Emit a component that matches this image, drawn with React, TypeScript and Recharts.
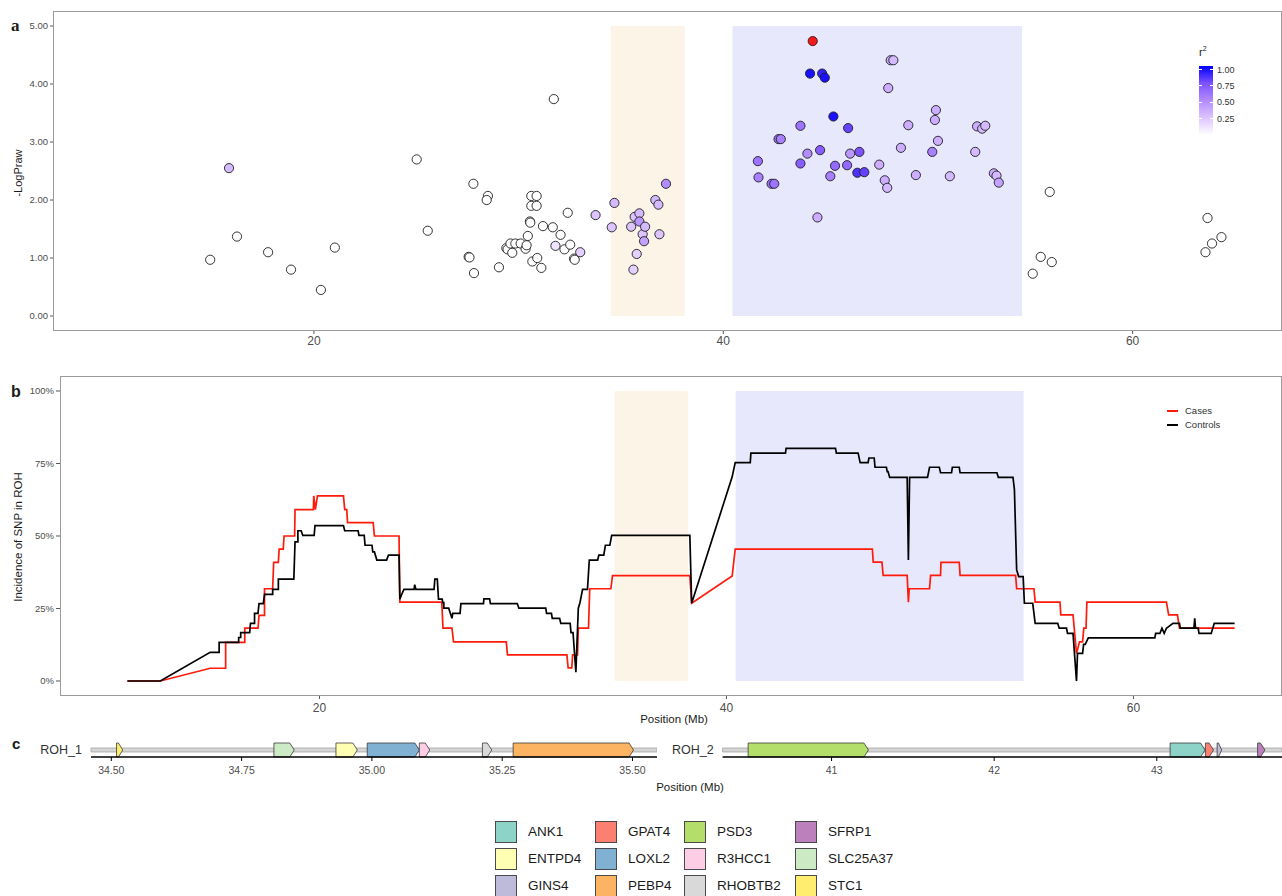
import React from 'react'
import {
  ComposedChart,
  Line,
  ReferenceArea,
  Scatter,
  ScatterChart,
  XAxis,
  YAxis,
} from 'recharts'

const FONT = '"Liberation Sans", Arial, Helvetica, sans-serif'

// ---- shared -------------------------------------------------------------
const xTicks = [20, 40, 60]
const rohStart = [34.5, 40.45]
const rohEnd = [38.12, 54.6]
const rohFill = ['#fdf4e8', '#e8e8fc']

// ---- panel a: SNPs as [position Mb, -log10 p, r2] ----------------------
const snps: [number, number, number][] = [
  [14.93, 0.97, 0], [15.85, 2.55, 0.3], [16.24, 1.37, 0], [17.76, 1.1, 0], [18.88, 0.8, 0],
  [20.34, 0.45, 0], [21.02, 1.18, 0], [25.02, 2.7, 0], [25.56, 1.47, 0], [27.56, 1.02, 0],
  [27.6, 1.01, 0], [27.79, 2.28, 0], [27.82, 0.74, 0], [28.5, 2.07, 0], [28.44, 2.0, 0],
  [29.04, 0.84, 0], [29.4, 1.17, 0], [29.46, 1.15, 0], [29.6, 1.25, 0], [29.69, 1.09, 0],
  [29.84, 1.25, 0], [30.1, 1.25, 0], [30.34, 1.16, 0], [30.39, 1.22, 0], [30.45, 1.38, 0],
  [30.55, 1.63, 0], [30.57, 1.61, 0], [30.62, 2.07, 0], [30.88, 2.07, 0], [30.62, 1.9, 0],
  [30.88, 1.9, 0], [30.67, 0.94, 0], [30.91, 1.0, 0], [31.11, 0.83, 0], [31.19, 1.55, 0],
  [31.67, 1.53, 0], [31.72, 3.74, 0], [31.8, 1.21, 0.12], [32.05, 1.4, 0], [32.24, 1.15, 0],
  [32.4, 1.78, 0], [32.52, 1.23, 0], [32.71, 0.99, 0], [32.74, 0.97, 0], [33.01, 1.1, 0.2],
  [33.76, 1.74, 0.25], [34.55, 1.53, 0.25], [34.68, 1.95, 0.3], [35.5, 1.54, 0.25],
  [35.61, 0.8, 0.2], [35.67, 1.71, 0.25], [35.77, 1.07, 0.2], [35.9, 1.77, 0.3],
  [35.9, 1.63, 0.45], [36.06, 1.41, 0.25], [36.13, 1.29, 0.4], [36.18, 1.54, 0.3],
  [36.68, 2.0, 0.3], [36.83, 1.92, 0.3], [36.88, 1.41, 0.25], [37.2, 2.28, 0.5],
  [41.69, 2.67, 0.6], [41.72, 2.39, 0.55], [42.36, 2.28, 0.6], [42.49, 2.28, 0.6],
  [42.7, 3.05, 0.6], [42.81, 3.05, 0.55], [43.77, 3.28, 0.6], [43.77, 2.63, 0.7],
  [44.11, 2.8, 0.5], [44.24, 4.18, 0.95], [44.6, 1.7, 0.35], [44.73, 2.86, 0.7],
  [44.83, 4.18, 0.9], [44.96, 4.11, 0.95], [45.23, 2.41, 0.55], [45.38, 3.44, 0.95],
  [45.46, 2.59, 0.65], [46.05, 2.6, 0.65], [46.1, 3.24, 0.8], [46.2, 2.8, 0.45],
  [46.55, 2.47, 0.85], [46.65, 2.83, 0.75], [46.89, 2.48, 0.8], [47.62, 2.61, 0.35],
  [47.89, 2.34, 0.35], [48.01, 2.21, 0.3], [48.06, 3.93, 0.35], [48.18, 4.41, 0.35],
  [48.31, 4.41, 0.3], [48.68, 2.9, 0.35], [49.04, 3.29, 0.35], [49.41, 2.43, 0.35],
  [50.21, 2.83, 0.55], [50.34, 3.38, 0.35], [50.39, 3.55, 0.35], [50.49, 3.02, 0.35],
  [51.07, 2.41, 0.3], [52.31, 2.83, 0.3], [52.4, 3.27, 0.35], [52.65, 3.23, 0.3],
  [52.8, 3.28, 0.3], [53.22, 2.46, 0.35], [53.35, 2.42, 0.3], [53.46, 2.3, 0.4],
  [55.12, 0.73, 0], [55.51, 1.02, 0], [55.95, 2.14, 0], [56.05, 0.93, 0],
  [63.56, 1.1, 0], [63.66, 1.69, 0], [63.88, 1.25, 0], [64.34, 1.36, 0],
]
const leadSnp: [number, number][] = [[44.37, 4.74]]
const logPTicks = [0, 1, 2, 3, 4, 5]
const r2Ticks = [1, 0.75, 0.5, 0.25]

// ---- panel b: incidence traces as [position Mb, % in ROH] ---------------
const casesTrace: [number, number][] = [
  [10.56, 0], [12.18, 0], [14.63, 4.4], [15.39, 4.4], [15.39, 13.3], [16.33, 13.3], [16.33, 18.2],
  [16.98, 18.2], [17.03, 22.6], [17.3, 22.6], [17.3, 31.8], [17.7, 31.8], [17.75, 40.9],
  [17.98, 40.9], [18.02, 45.5], [18.22, 45.5], [18.26, 50], [18.78, 50], [18.8, 59.1],
  [19.7, 59.1], [19.72, 63.8], [19.8, 59.1], [19.9, 63.8], [21.18, 63.8], [21.24, 59.1],
  [21.34, 59.1], [21.38, 54.6], [22.64, 54.6], [22.7, 50], [23.91, 50], [23.95, 27.2],
  [26.01, 27.2], [26.07, 18.2], [26.51, 18.2], [26.59, 13.5], [29.18, 13.5], [29.24, 9],
  [32.16, 9], [32.22, 4.5], [32.4, 4.5], [32.44, 9], [32.68, 9], [32.72, 18.2], [33.22, 18.2],
  [33.28, 31.8], [34.32, 31.8], [34.4, 36.3], [38.2, 36.3], [38.29, 26.8], [40.28, 36.2],
  [40.43, 45.5], [47.17, 45.5], [47.21, 41], [47.64, 41], [47.7, 36.4], [48.88, 36.4],
  [48.94, 27.2], [48.98, 31.8], [49.98, 31.8], [50.03, 36.4], [50.52, 36.4], [50.54, 40.9],
  [51.44, 40.9], [51.48, 36.4], [54.21, 36.4], [54.26, 31.8], [55.11, 31.8], [55.17, 27.2],
  [56.39, 27.2], [56.43, 22.8], [57.03, 22.8], [57.2, 9.5], [57.35, 13.5], [57.5, 13.5],
  [57.56, 18.2], [57.67, 18.2], [57.71, 27.2], [61.62, 27.2], [61.73, 22.8], [62.16, 22.8],
  [62.26, 18.2], [64.97, 18.2],
]
const controlsTrace: [number, number][] = [
  [10.56, 0], [12.18, 0], [14.63, 9.9], [15.07, 9.9], [15.07, 13.3], [16.03, 13.3], [16.03, 15],
  [16.13, 15], [16.13, 16.7], [16.57, 16.7], [16.61, 19.9], [16.81, 19.9], [16.81, 23.3],
  [16.98, 23.3], [17.03, 26.7], [17.24, 26.7], [17.3, 29.9], [17.7, 29.9], [17.7, 31.6],
  [17.98, 31.6], [17.98, 35.1], [18.74, 35.1], [18.8, 48], [18.94, 48], [18.94, 51.8],
  [19.1, 51.8], [19.18, 50.2], [19.74, 50.2], [19.78, 53.6], [21.18, 53.6], [21.24, 51.8],
  [21.9, 51.8], [21.94, 50.2], [22.2, 50.2], [22.24, 46.8], [22.58, 46.8], [22.62, 44.5],
  [22.7, 44.5], [22.82, 41.7], [23.3, 41.7], [23.39, 43.4], [23.91, 43.4], [23.95, 28.2],
  [24.05, 30], [24.15, 31.6], [24.65, 31.6], [24.68, 33.2], [24.74, 31.6], [25.63, 31.6],
  [25.67, 35.1], [25.79, 35.1], [25.85, 28.2], [26.03, 28.2], [26.06, 27], [26.11, 27],
  [26.11, 25.1], [26.35, 25.1], [26.51, 21.6], [26.55, 23.3], [26.91, 23.3], [26.95, 26.7],
  [28.06, 26.7], [28.08, 28.3], [28.36, 28.3], [28.4, 26.7], [29.72, 26.7], [29.8, 25.1],
  [31.12, 25.1], [31.16, 23.3], [31.4, 23.3], [31.44, 21.6], [31.8, 21.6], [31.86, 19.9],
  [32.32, 19.9], [32.36, 16.7], [32.46, 16.7], [32.6, 3], [32.72, 25.1], [32.8, 27],
  [32.93, 31.6], [33.17, 31.6], [33.26, 41.7], [33.67, 41.7], [33.73, 43.4], [33.97, 43.4],
  [34.05, 46.8], [34.27, 46.8], [34.36, 50.2], [38.2, 50.2], [38.29, 26.8], [40.28, 70.4],
  [40.43, 75.3], [41.17, 75.3], [41.2, 78.6], [42.9, 78.6], [42.93, 80.2], [45.36, 80.2],
  [45.4, 78.6], [46.47, 78.6], [46.57, 75.3], [46.96, 75.3], [47.0, 76.9], [47.26, 76.9],
  [47.3, 73.7], [47.86, 73.7], [47.9, 72.2], [47.94, 72.2], [48.02, 70.2], [48.88, 70.2],
  [48.94, 41.7], [49.0, 70.2], [49.88, 70.2], [49.98, 73.7], [50.46, 73.7], [50.52, 71.8],
  [51.06, 71.8], [51.1, 73.7], [51.44, 73.7], [51.48, 71.8], [53.29, 71.8], [53.36, 70.2],
  [54.08, 70.2], [54.15, 66], [54.26, 38.3], [54.36, 36], [54.58, 36], [54.64, 26.8],
  [55.05, 26.8], [55.17, 19.9], [56.28, 19.9], [56.35, 18.2], [56.71, 18.2], [56.76, 16.4],
  [57.03, 16.4], [57.2, 0], [57.25, 9.5], [57.5, 9.5], [57.55, 12.6], [57.63, 12.6],
  [57.78, 14.9], [61.05, 14.9], [61.09, 16.4], [61.3, 16.4], [61.4, 18.2], [61.51, 16.4],
  [61.62, 18.2], [61.94, 19.9], [62.26, 19.9], [62.3, 18.2], [62.97, 18.2], [63.01, 21.6],
  [63.05, 18.2], [63.18, 18.2], [63.22, 16.4], [63.82, 16.4], [63.97, 19.9], [64.97, 19.9],
]
const pctTicks = [0, 25, 50, 75, 100]

// ---- panel c: genes as [name, start Mb, end Mb] -------------------------
const roh1Genes: [string, number, number][] = [
  ['STC1', 34.51, 34.522], ['SLC25A37', 34.812, 34.851], ['ENTPD4', 34.931, 34.972],
  ['LOXL2', 34.991, 35.091], ['R3HCC1', 35.091, 35.111], ['RHOBTB2', 35.212, 35.23],
  ['PEBP4', 35.271, 35.502],
]
const roh2Genes: [string, number, number][] = [
  ['PSD3', 40.487, 41.227], ['ANK1', 43.082, 43.297], ['GPAT4', 43.299, 43.349],
  ['GINS4', 43.371, 43.399], ['SFRP1', 43.62, 43.665],
]
const roh1Ticks = [34.5, 34.75, 35, 35.25, 35.5]
const roh2Ticks = [41, 42, 43]
const geneNames = ['ANK1', 'ENTPD4', 'GINS4', 'GPAT4', 'LOXL2', 'PEBP4', 'PSD3', 'R3HCC1', 'RHOBTB2', 'SFRP1', 'SLC25A37', 'STC1']

const geneColour: Record<string, string> = {
  ANK1: '#8dd3c7', ENTPD4: '#ffffb3', GINS4: '#bebada', GPAT4: '#fb8072',
  LOXL2: '#80b1d3', PEBP4: '#fdb462', PSD3: '#b3de69', R3HCC1: '#fccde5',
  RHOBTB2: '#d9d9d9', SFRP1: '#bc80bd', SLC25A37: '#ccebc5', STC1: '#ffed6f',
}

// white -> blue, lab-ish stops like ggplot's gradient
const R2_STOPS = ['#ffffff', '#ddc4ff', '#b28bff', '#7e52ff', '#0000ff']

function hexToRgb(h: string) {
  const n = parseInt(h.slice(1), 16)
  return [(n >> 16) & 255, (n >> 8) & 255, n & 255]
}

function r2Colour(v: number) {
  const t = Math.max(0, Math.min(1, v)) * 4
  const i = Math.min(3, Math.floor(t))
  const f = t - i
  const a = hexToRgb(R2_STOPS[i])
  const b = hexToRgb(R2_STOPS[i + 1])
  const c = a.map((x, k) => Math.round(x + (b[k] - x) * f))
  return `rgb(${c[0]},${c[1]},${c[2]})`
}

const snpData = snps.map(([pos, logp, r2]) => ({ pos, logp, r2 }))
const leadData = leadSnp.map(([pos, logp]) => ({ pos, logp }))
const casesData = casesTrace.map(([pos, pct]) => ({ pos, pct }))
const controlsData = controlsTrace.map(([pos, pct]) => ({ pos, pct }))

const tickStyle = { fill: '#4d4d4d', fontSize: 12 }

function SnpDot(props: any) {
  const { cx, cy, payload } = props
  if (cx == null || cy == null) return null
  return <circle cx={cx} cy={cy} r={4.6} fill={r2Colour(payload.r2)} stroke="#1e1e1e" strokeWidth={0.9} />
}

function LeadDot(props: any) {
  const { cx, cy } = props
  if (cx == null || cy == null) return null
  return <circle cx={cx} cy={cy} r={4.6} fill="#ee1c1c" stroke="#3a0000" strokeWidth={0.8} />
}

function GeneArrow(props: any) {
  const { x, y, width, height, fill } = props
  if (x == null || width == null) return null
  const head = Math.min(4.5, width * 0.7)
  const pts = [
    [x, y], [x + width - head, y], [x + width, y + height / 2],
    [x + width - head, y + height], [x, y + height],
  ].map((p) => p.join(',')).join(' ')
  return <polygon points={pts} fill={fill} fillOpacity={1} stroke="#3a3a3a" strokeWidth={0.8} />
}

function Txt({ x, y, size = 11, align = 'left', rotate = false, weight = 400, family = FONT, color = '#1a1a1a', children }: any) {
  const tx = align === 'center' ? '-50%' : align === 'right' ? '-100%' : '0'
  return (
    <div
      style={{
        position: 'absolute', left: x, top: y, fontSize: size, fontWeight: weight, fontFamily: family,
        color, lineHeight: 1, whiteSpace: 'nowrap',
        transform: rotate ? 'translate(-50%, -50%) rotate(-90deg)' : `translate(${tx}, -50%)`,
      }}
    >
      {children}
    </div>
  )
}

function Frame({ left, top, width, height }: any) {
  return (
    <div style={{ position: 'absolute', left, top, width, height, border: '1px solid #9a9a9a', boxSizing: 'border-box', pointerEvents: 'none' }} />
  )
}

function GeneTrack({ genes, domain, ticks, label, width, labelWidth, digits }: any) {
  const rows = genes.map(([name, s]: [string, number, number]) => ({ name, pos: s, y: 0.5 }))
  return (
    <ComposedChart width={width} height={50} data={rows} margin={{ top: 8, right: 0, bottom: 3, left: 0 }}>
      <XAxis
        type="number" dataKey="pos" domain={domain} ticks={ticks} allowDataOverflow height={25}
        tickFormatter={(v: number) => v.toFixed(digits)}
        axisLine={{ stroke: '#000', strokeWidth: 1.4 }} tickLine={{ stroke: '#000' }}
        tickSize={4} tickMargin={6} tick={{ fill: '#4d4d4d', fontSize: 10.5 }}
      />
      <YAxis
        type="number" dataKey="y" domain={[0, 1]} ticks={[0.5]} allowDataOverflow tickFormatter={() => label} width={labelWidth}
        axisLine={false} tickLine={false} tickSize={0} tickMargin={9} tick={{ fill: '#333', fontSize: 12.5 }}
      />
      {/* the ROH track itself, drawn first so genes sit on top */}
      <ReferenceArea
        x1={domain[0]} x2={domain[1]} y1={0.36} y2={0.64} ifOverflow="visible"
        fill="#d6d6d6" fillOpacity={1} stroke="#aaaaaa" strokeWidth={0.9}
      />
      {genes.map(([name, s, e]: [string, number, number]) => (
        <ReferenceArea
          key={name} x1={s} x2={e} y1={0} y2={1} fill={geneColour[name]} fillOpacity={1} ifOverflow="visible"
          shape={(p: any) => <GeneArrow {...p} fill={geneColour[name]} />}
        />
      ))}
    </ComposedChart>
  )
}

const legendColX = [495, 595, 684, 795]
const legendRowY = [821, 848, 875]

export default function App() {
  return (
    <div style={{ position: 'absolute', left: 0, top: 0, width: 1282, height: 896, background: '#fff', fontFamily: FONT, overflow: 'hidden' }}>
      {/* panel a */}
      <div style={{ position: 'absolute', left: 0, top: 0 }}>
        <ScatterChart width={1282} height={352} margin={{ top: 11, right: 1, bottom: 2, left: 8 }}>
          <XAxis
            type="number" dataKey="pos" domain={[7.25, 67.25]} ticks={xTicks} allowDataOverflow height={20}
            axisLine={false} tickLine={{ stroke: '#555' }} tickSize={4} tickMargin={2} tick={tickStyle}
          />
          <YAxis
            type="number" dataKey="logp" domain={[-0.241, 5.259]} ticks={logPTicks} allowDataOverflow width={45}
            tickFormatter={(v: number) => v.toFixed(2)}
            axisLine={false} tickLine={{ stroke: '#555' }} tickSize={3} tickMargin={2} tick={{ fill: '#4d4d4d', fontSize: 9.5 }}
          />
          {rohStart.map((s, i) => (
            <ReferenceArea key={i} x1={s} x2={rohEnd[i]} y1={0} y2={5} fill={rohFill[i]} fillOpacity={1} stroke="none" />
          ))}
          <Scatter data={snpData} shape={SnpDot} isAnimationActive={false} />
          <Scatter data={leadData} shape={LeadDot} isAnimationActive={false} />
        </ScatterChart>
      </div>
      <Frame left={53} top={11} width={1229} height={320} />
      <Txt x={11} y={25} size={17} weight={700} family='"Liberation Serif", "Times New Roman", serif'>a</Txt>
      <Txt x={18} y={173} size={11} rotate>-LogPraw</Txt>

      {/* r2 colour bar */}
      <div style={{ position: 'absolute', left: 1199, top: 47, fontSize: 11, color: '#1a1a1a', lineHeight: 1 }}>
        r<sup style={{ fontSize: 7, verticalAlign: 'top', position: 'relative', top: -2 }}>2</sup>
      </div>
      <div
        style={{
          position: 'absolute', left: 1199, top: 66, width: 14, height: 69,
          background: `linear-gradient(to top, ${R2_STOPS.join(', ')})`,
        }}
      />
      {r2Ticks.map((t) => (
        <React.Fragment key={t}>
          <div style={{ position: 'absolute', left: 1199, top: 134.7 - t * 65.7, width: 3, height: 1, background: '#fff' }} />
          <div style={{ position: 'absolute', left: 1210, top: 134.7 - t * 65.7, width: 3, height: 1, background: '#fff' }} />
          <Txt x={1217} y={135.2 - t * 65.7} size={9} color="#333">{t.toFixed(2)}</Txt>
        </React.Fragment>
      ))}

      {/* panel b */}
      <div style={{ position: 'absolute', left: 0, top: 360 }}>
        <ComposedChart width={1282} height={357} margin={{ top: 16, right: 1, bottom: 2, left: 8 }}>
          <XAxis
            type="number" dataKey="pos" domain={[7.25, 67.25]} ticks={xTicks} allowDataOverflow height={20}
            axisLine={false} tickLine={{ stroke: '#555' }} tickSize={4} tickMargin={4} tick={tickStyle}
          />
          <YAxis
            type="number" domain={[-4.83, 105.17]} ticks={pctTicks} allowDataOverflow width={52}
            tickFormatter={(v: number) => `${v}%`}
            axisLine={false} tickLine={{ stroke: '#555' }} tickSize={4} tickMargin={2} tick={{ fill: '#4d4d4d', fontSize: 9.5 }}
          />
          {rohStart.map((s, i) => (
            <ReferenceArea key={i} x1={s} x2={rohEnd[i]} y1={0} y2={100} fill={rohFill[i]} fillOpacity={1} stroke="none" />
          ))}
          <Line data={casesData} dataKey="pct" type="linear" stroke="#ff1a0a" strokeWidth={1.7} dot={false} isAnimationActive={false} />
          <Line data={controlsData} dataKey="pct" type="linear" stroke="#000" strokeWidth={1.7} dot={false} isAnimationActive={false} />
        </ComposedChart>
      </div>
      <Frame left={60} top={376} width={1222} height={320} />
      <Txt x={11} y={392} size={16} weight={700}>b</Txt>
      <Txt x={19} y={537} size={11.5} rotate>Incidence of SNP in ROH</Txt>
      <Txt x={674} y={720} size={11.5} align="center">Position (Mb)</Txt>
      <div style={{ position: 'absolute', left: 1167, top: 410, width: 11, height: 2, background: '#ff1a0a' }} />
      <div style={{ position: 'absolute', left: 1167, top: 424, width: 11, height: 2, background: '#000' }} />
      <Txt x={1185} y={411} size={9.5} color="#333">Cases</Txt>
      <Txt x={1185} y={425} size={9.5} color="#333">Controls</Txt>

      {/* panel c */}
      <Txt x={12} y={743} size={15} weight={700}>c</Txt>
      <div style={{ position: 'absolute', left: 0, top: 735 }}>
        <GeneTrack genes={roh1Genes} domain={[34.461, 35.547]} ticks={roh1Ticks} label="ROH_1" width={657} labelWidth={91} digits={2} />
      </div>
      <div style={{ position: 'absolute', left: 660, top: 735 }}>
        <GeneTrack genes={roh2Genes} domain={[40.33, 43.77]} ticks={roh2Ticks} label="ROH_2" width={622} labelWidth={62.6} digits={0} />
      </div>
      <Txt x={690} y={788} size={11.5} align="center">Position (Mb)</Txt>

      {/* gene legend */}
      {geneNames.map((g, i) => {
        const x = legendColX[Math.floor(i / 3)]
        const y = legendRowY[i % 3]
        return (
          <React.Fragment key={g}>
            <div style={{ position: 'absolute', left: x, top: y, width: 22, height: 22, background: geneColour[g], border: '1px solid #4a4a4a', boxSizing: 'border-box' }} />
            <Txt x={x + 33} y={y + 11} size={13.5} color="#1a1a1a">{g}</Txt>
          </React.Fragment>
        )
      })}
    </div>
  )
}
